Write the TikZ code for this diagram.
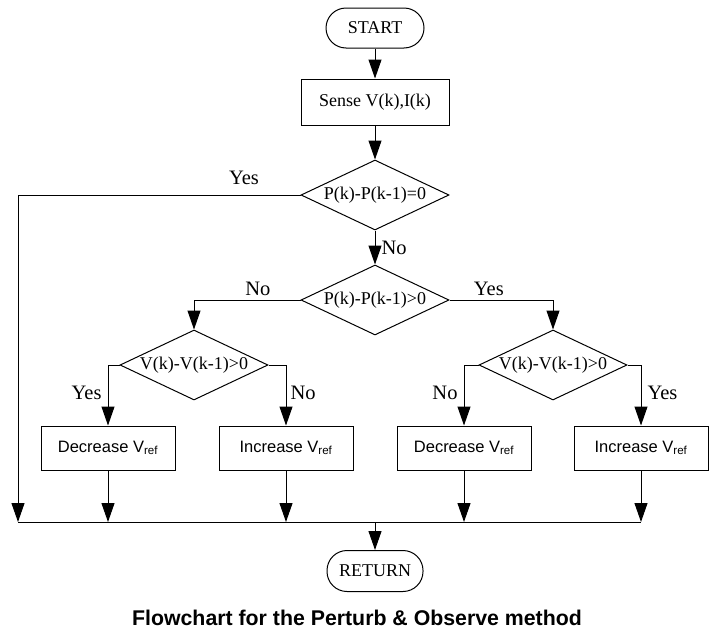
\documentclass[tikz,border=0pt]{standalone}
\usepackage{fontspec}
\setmainfont{Liberation Serif}
\setsansfont{Liberation Sans}
\usetikzlibrary{arrows.meta,shapes.geometric}
\tikzset{
  term/.style={draw, rounded corners=20pt, minimum width=98pt, minimum height=40pt,
               font=\fontsize{18}{20}\selectfont},
  box/.style={draw, minimum width=#1, minimum height=44pt, inner sep=2pt},
  box/.default=134pt,
  dec/.style={draw, diamond, aspect=2.1, inner sep=0pt, minimum width=148pt,
              minimum height=70pt, font=\fontsize{18}{20}\selectfont},
  lbl/.style={inner sep=2pt, font=\fontsize{20.5}{22}\selectfont},
  arr/.style={-{Triangle[length=19pt, width=13pt]}},
  every picture/.style={line width=1pt}}
\newcommand{\vrefsub}{V\textsubscript{ref}}

\begin{document}
\begin{tikzpicture}[x=1pt, y=-1pt]
  \useasboundingbox (0,0) rectangle (720,640);
  \node[term] (start) at (375,28) {START};
  \node[box=148pt, minimum height=46pt, font=\fontsize{18}{20}\selectfont] (sense) at (375,102) {Sense V(k),I(k)};
  \node[dec] (d1) at (375,195) {P(k)-P(k-1)=0};
  \node[dec] (d2) at (375,300) {P(k)-P(k-1)>0};
  \node[dec] (d3) at (194,365) {V(k)-V(k-1)>0};
  \node[dec] (d4) at (553,365) {V(k)-V(k-1)>0};
  \node[box, font=\sffamily\fontsize{16.5}{18}\selectfont] (decl) at (108,448) {Decrease \vrefsub};
  \node[box, font=\sffamily\fontsize{16.5}{18}\selectfont] (incl) at (286,448) {Increase \vrefsub};
  \node[box, font=\sffamily\fontsize{16.5}{18}\selectfont] (decr) at (464,448) {Decrease \vrefsub};
  \node[box, font=\sffamily\fontsize{16.5}{18}\selectfont] (incr) at (641,448) {Increase \vrefsub};
  \node[term, minimum width=96pt, minimum height=41pt] (ret) at (375,571) {RETURN};
  \node[font=\sffamily\bfseries\fontsize{21.3}{24}\selectfont] (cap) at (357,618) {Flowchart for the Perturb \& Observe method};

  \coordinate (j0) at (18,522);
  \coordinate (j1) at (108,522);
  \coordinate (j2) at (286,522);
  \coordinate (jm) at (375,522);
  \coordinate (j3) at (464,522);
  \coordinate (j4) at (641,522);

  \draw[arr] (start) -- (sense);
  \draw[arr] (sense) -- (d1);
  \draw[arr] (d1.west) -| node[lbl, pos=0.1, above=8pt] {Yes} (j0);
  \draw[arr] (d1) -- node[lbl, right=4pt] {No} (d2);
  \draw[arr] (d2.west) -| node[lbl, pos=0.2, above=2pt] {No} (d3.north);
  \draw[arr] (d2.east) -| node[lbl, pos=0.19, above=2pt] {Yes} (d4.north);
  \draw[arr] (d3.west) -| node[lbl, pos=0.73, left=4pt] {Yes} (decl.north);
  \draw[arr] (d3.east) -| node[lbl, pos=0.73, right=2pt] {No} (incl.north);
  \draw[arr] (d4.west) -| node[lbl, pos=0.73, left=4pt] {No} (decr.north);
  \draw[arr] (d4.east) -| node[lbl, pos=0.73, right=4pt] {Yes} (incr.north);
  \draw[arr] (decl) -- (j1);
  \draw[arr] (incl) -- (j2);
  \draw[arr] (decr) -- (j3);
  \draw[arr] (incr) -- (j4);
  \draw (j0) -- (j4);
  \draw[arr] (jm) -- (ret);
\end{tikzpicture}
\end{document}
